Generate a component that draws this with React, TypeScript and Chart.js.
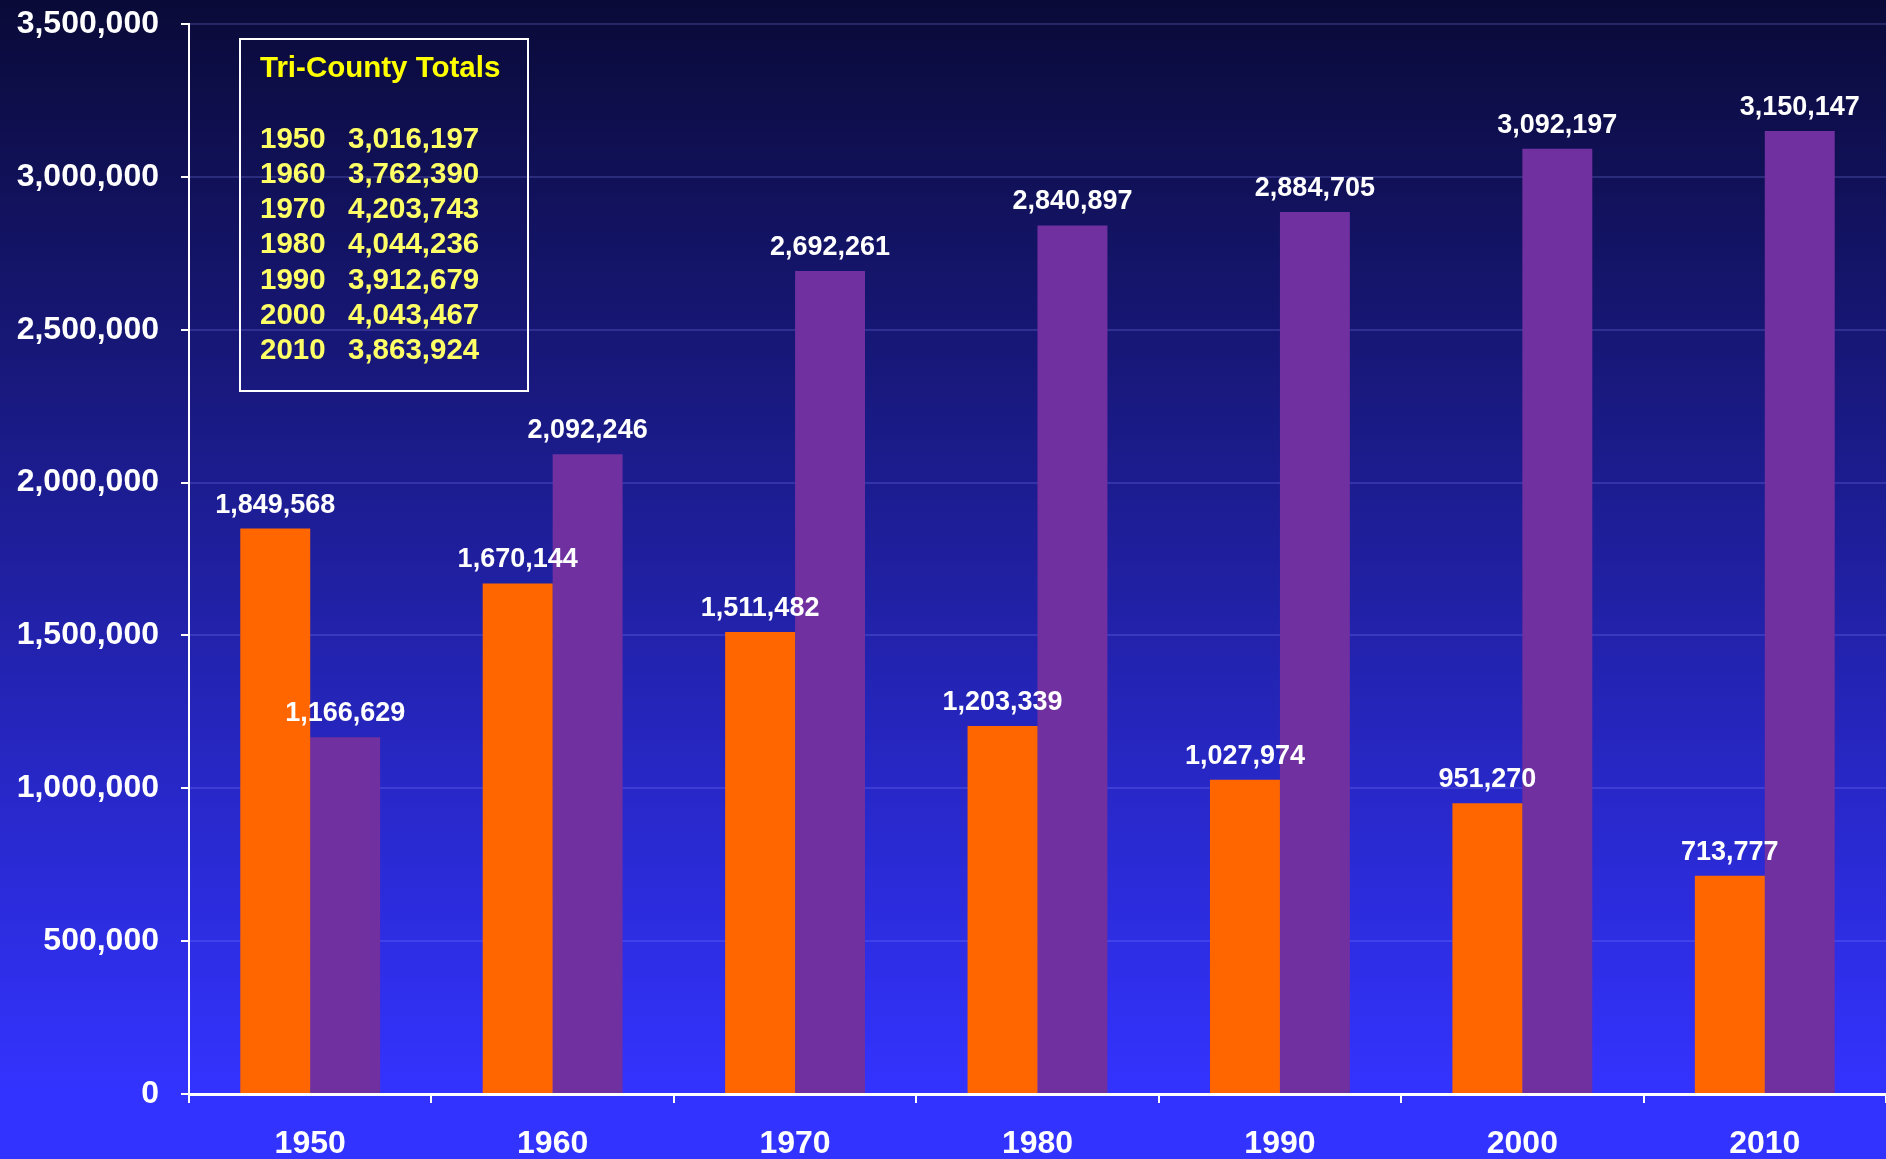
import React, { useEffect, useRef } from "react";
import { Chart, registerables } from "chart.js";

Chart.register(...registerables);

const categories = ["1950", "1960", "1970", "1980", "1990", "2000", "2010"];
const cityValues = [1849568, 1670144, 1511482, 1203339, 1027974, 951270, 713777];
const suburbValues = [1166629, 2092246, 2692261, 2840897, 2884705, 3092197, 3150147];
const totalsTitle = "Tri-County Totals";
const totalYears = ["1950", "1960", "1970", "1980", "1990", "2000", "2010"];
const totalValues = [3016197, 3762390, 4203743, 4044236, 3912679, 4043467, 3863924];
const yMin = 0;
const yMax = 3500000;
const yStep = 500000;

const FONT = '"Liberation Sans", Arial, Helvetica, sans-serif';
const W = 1886;
const H = 1159;

const fmt = (v: number) => Number(v).toLocaleString("en-US");

const bgPlugin = {
  id: "bgGradient",
  beforeDraw(chart: any) {
    const { ctx, width, height } = chart;
    const g = ctx.createLinearGradient(0, 0, 0, height);
    g.addColorStop(0, "#0a0a38");
    g.addColorStop(0.94, "#3333ff");
    g.addColorStop(1, "#3333ff");
    ctx.save();
    ctx.fillStyle = g;
    ctx.fillRect(0, 0, width, height);
    ctx.restore();
  },
};

const valueLabelPlugin = {
  id: "valueLabels",
  afterDatasetsDraw(chart: any) {
    const ctx = chart.ctx;
    ctx.save();
    ctx.font = `bold 27px ${FONT}`;
    ctx.fillStyle = "#ffffff";
    ctx.textAlign = "center";
    ctx.textBaseline = "alphabetic";
    chart.data.datasets.forEach((ds: any, i: number) => {
      const meta = chart.getDatasetMeta(i);
      meta.data.forEach((el: any, j: number) => {
        ctx.fillText(fmt(ds.data[j]), el.x, el.y - 16);
      });
    });
    ctx.restore();
  },
};

export default function App() {
  const ref = useRef<HTMLCanvasElement | null>(null);

  useEffect(() => {
    document.body.style.margin = "0";
    document.body.style.overflow = "hidden";
    if (!ref.current) return;
    const chart = new Chart(ref.current, {
      type: "bar",
      data: {
        labels: categories,
        datasets: [
          {
            label: "City",
            data: cityValues,
            backgroundColor: "#ff6600",
            categoryPercentage: 0.577,
            barPercentage: 1,
          },
          {
            label: "Suburbs",
            data: suburbValues,
            backgroundColor: "#7030a0",
            categoryPercentage: 0.577,
            barPercentage: 1,
          },
        ],
      },
      options: {
        animation: false,
        responsive: false,
        maintainAspectRatio: false,
        layout: { padding: { top: 24, left: 0, right: 0, bottom: 0 } },
        plugins: {
          legend: { display: false },
          tooltip: { enabled: false },
        },
        scales: {
          x: {
            grid: {
              display: true,
              drawOnChartArea: false,
              color: "#ffffff",
              tickLength: 9,
              lineWidth: 2,
              offset: true,
            },
            border: { color: "#ffffff", width: 3 },
            ticks: {
              color: "#ffffff",
              font: { size: 32, weight: "bold", family: FONT },
              padding: 22,
            },
            afterFit: (s: any) => {
              s.height = 65;
              s.paddingLeft = 0;
              s.paddingRight = 0;
            },
          },
          y: {
            min: yMin,
            max: yMax,
            ticks: {
              stepSize: yStep,
              color: "#ffffff",
              font: { size: 32, weight: "bold", family: FONT },
              padding: 22,
              callback: (v: any) => fmt(v),
            },
            grid: {
              color: "rgba(140,140,255,0.22)",
              tickColor: "#ffffff",
              tickLength: 8,
              lineWidth: 2,
            },
            border: { color: "#ffffff", width: 2 },
            afterFit: (s: any) => {
              s.width = 189;
              s.paddingTop = 0;
              s.paddingBottom = 0;
            },
          },
        },
      } as any,
      plugins: [bgPlugin, valueLabelPlugin],
    });
    return () => chart.destroy();
  }, []);

  const rowTop0 = 122.5;
  const rowGap = 35.3;

  return (
    <div style={{ position: "relative", width: W, height: H, overflow: "hidden" }}>
      <canvas ref={ref} width={W} height={H} style={{ display: "block", width: W, height: H }} />
      <div
        style={{
          position: "absolute",
          left: 239,
          top: 38,
          width: 290,
          height: 354,
          border: "2px solid #ffffff",
          boxSizing: "border-box",
        }}
      />
      <div
        style={{
          position: "absolute",
          left: 260,
          top: 52,
          font: `bold 29.5px ${FONT}`,
          lineHeight: "30px",
          color: "#ffff00",
          whiteSpace: "nowrap",
        }}
      >
        {totalsTitle}
      </div>
      {totalYears.map((y, i) => (
        <div
          key={y}
          style={{
            position: "absolute",
            left: 260,
            top: rowTop0 + i * rowGap,
            font: `bold 29.5px ${FONT}`,
            lineHeight: "29px",
            color: "#ffff66",
            whiteSpace: "nowrap",
          }}
        >
          <span style={{ display: "inline-block", width: 88 }}>{y}</span>
          <span>{fmt(totalValues[i])}</span>
        </div>
      ))}
    </div>
  );
}
